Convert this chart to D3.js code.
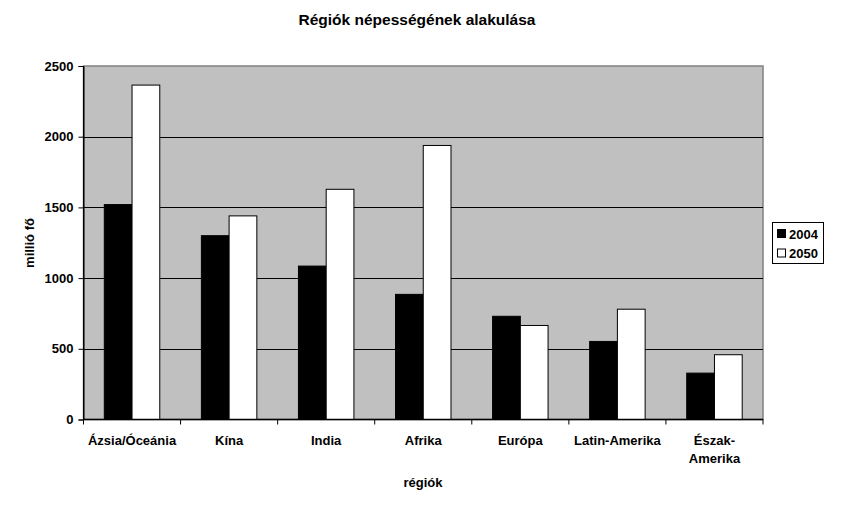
<!DOCTYPE html>
<html><head><meta charset="utf-8">
<script src="https://cdn.jsdelivr.net/npm/d3@7"></script>
<style>body{margin:0;background:#fff}text{font-family:"Liberation Sans",Arial,sans-serif;font-weight:bold;fill:#000}</style>
</head><body><svg id="c" width="860" height="518"></svg>
<script>
const categories = ["Ázsia/Óceánia","Kína","India","Afrika","Európa","Latin-Amerika","Észak-Amerika"];
const series = ["2004","2050"];
const values2004 = [1520,1300,1085,885,730,552,328];
const values2050 = [2365,1440,1628,1938,665,780,458];
const yTicks = [0,500,1000,1500,2000,2500];
const colors = ["#000000","#ffffff"];

const svg = d3.select("#c");
const L=83.5, R=763, T=66, B=419.5;
const x = d3.scaleBand().domain(categories).range([L,R]).paddingInner(0).paddingOuter(0);
const y = d3.scaleLinear().domain([0,2500]).range([B,T]);
const bw = x.bandwidth()/3.5;

svg.append("rect").attr("x",L).attr("y",T).attr("width",R-L).attr("height",B-T).attr("fill","#c0c0c0").attr("stroke","#808080").attr("stroke-width",1.5);
svg.append("g").selectAll("line").data(yTicks.filter(d=>d>0&&d<2500)).join("line")
  .attr("x1",L).attr("x2",R).attr("y1",d=>Math.round(y(d))+0.5).attr("y2",d=>Math.round(y(d))+0.5).attr("stroke","#000");

const data = categories.map((c,i)=>({c, v:[values2004[i],values2050[i]]}));
const g = svg.append("g");
data.forEach(d=>{
  d.v.forEach((v,j)=>{
    g.append("rect").attr("x",x(d.c)+0.75*bw+j*bw).attr("y",y(v)).attr("width",bw).attr("height",B-y(v))
     .attr("fill",colors[j]).attr("stroke","#000").attr("stroke-width",1);
  });
});

// axes
const ya = svg.append("g").attr("transform",`translate(${L},0)`).call(d3.axisLeft(y).tickValues(yTicks).tickSize(5).tickFormat(d3.format("d")));
ya.select(".domain").attr("stroke","#000");
ya.selectAll("text").style("font-size","13px").attr("dx","-2");
svg.append("line").attr("x1",L).attr("x2",R).attr("y1",B).attr("y2",B).attr("stroke","#000").attr("stroke-width",1.5);
svg.append("line").attr("x1",L).attr("x2",L).attr("y1",T).attr("y2",B).attr("stroke","#000");
const bounds = categories.map(c=>x(c)).concat([R]);
svg.append("g").selectAll("line").data(bounds).join("line").attr("x1",d=>d).attr("x2",d=>d).attr("y1",B).attr("y2",B+5).attr("stroke","#000");

const lab = svg.append("g").selectAll("text").data(categories).join("text")
  .attr("x",c=>x(c)+x.bandwidth()/2).attr("y",445).attr("text-anchor","middle").style("font-size","13px");
lab.each(function(c){
  const t=d3.select(this);
  if(c==="Észak-Amerika"){
    t.append("tspan").attr("x",x(c)+x.bandwidth()/2).text("Észak-");
    t.append("tspan").attr("x",x(c)+x.bandwidth()/2).attr("dy",18).text("Amerika");
  } else t.text(c);
});

svg.append("text").attr("x",417).attr("y",25).attr("text-anchor","middle").style("font-size","15.5px").text("Régiók népességének alakulása");
svg.append("text").attr("x",423).attr("y",487).attr("text-anchor","middle").style("font-size","13px").text("régiók");
svg.append("text").attr("transform","translate(34,243) rotate(-90)").attr("text-anchor","middle").style("font-size","13px").text("millió fő");

// legend
const lg = svg.append("g");
lg.append("rect").attr("x",772.5).attr("y",222.5).attr("width",51).attr("height",41).attr("fill","#fff").attr("stroke","#000");
series.forEach((s,i)=>{
  lg.append("rect").attr("x",777.5).attr("y",229.5+i*19.5).attr("width",8).attr("height",8).attr("fill",colors[i]).attr("stroke","#000");
  lg.append("text").attr("x",789).attr("y",238.5+i*19.5).style("font-size","13px").text(s);
});
</script></body></html>
